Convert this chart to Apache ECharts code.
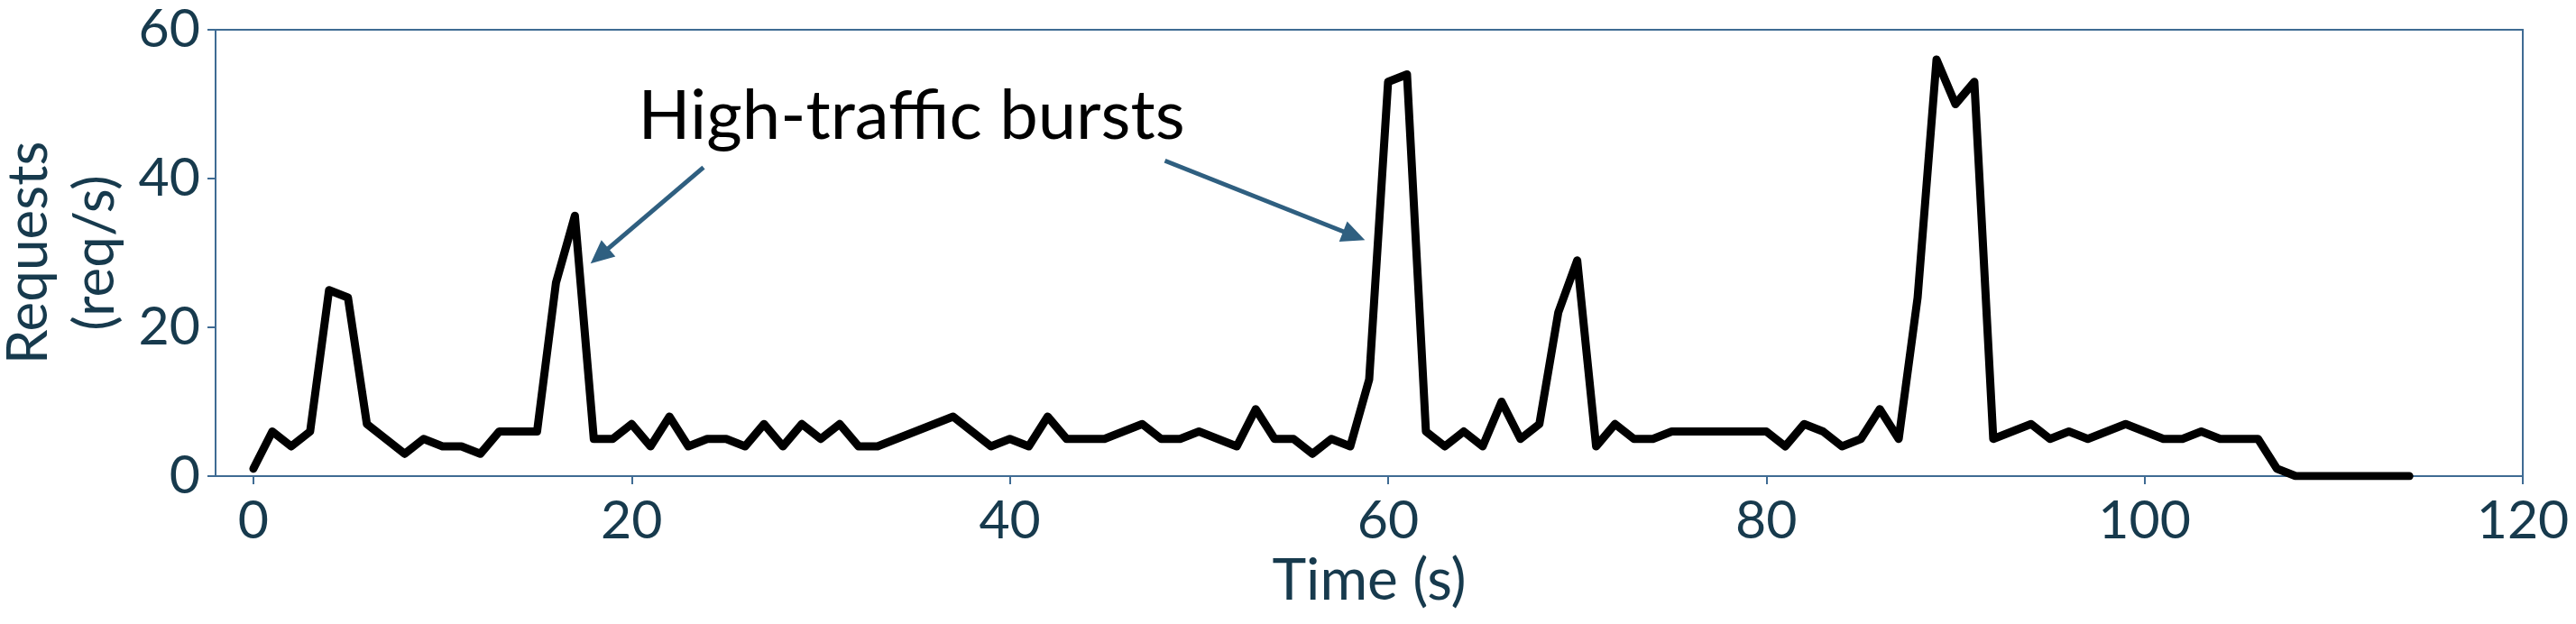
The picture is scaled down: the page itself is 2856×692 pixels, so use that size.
<!DOCTYPE html>
<html>
<head>
<meta charset="utf-8">
<script src="https://cdn.jsdelivr.net/npm/echarts@6/dist/echarts.min.js"></script>
<style>
html,body{margin:0;padding:0;background:#fff;}
#chart{width:2856px;height:692px;}
</style>
</head>
<body>
<div id="chart"></div>
<script>
// ---- data ----
const times = [];
for (let t = 0; t <= 114; t++) times.push(t);
const requests = [
  1, 6, 4, 6, 25, 24, 7, 5, 3, 5,
  4, 4, 3, 6, 6, 6, 26, 35, 5, 5,
  7, 4, 8, 4, 5, 5, 4, 7, 4, 7,
  5, 7, 4, 4, 5, 6, 7, 8, 6, 4,
  5, 4, 8, 5, 5, 5, 6, 7, 5, 5,
  6, 5, 4, 9, 5, 5, 3, 5, 4, 13,
  53, 54, 6, 4, 6, 4, 10, 5, 7, 22,
  29, 4, 7, 5, 5, 6, 6, 6, 6, 6,
  6, 4, 7, 6, 4, 5, 9, 5, 24, 56,
  50, 53, 5, 6, 7, 5, 6, 5, 6, 7,
  6, 5, 5, 6, 5, 5, 5, 1, 0, 0,
  0, 0, 0, 0, 0
];
const xTicks = [0, 20, 40, 60, 80, 100, 120];
const yTicks = [0, 20, 40, 60];
const annotationText = 'High-traffic bursts';
// annotation anchor points in data coordinates: [start, tip]
const arrows = [
  [[23.8, 41.5], [18.3, 29.6]],
  [[48.2, 42.4], [58.2, 32.3]]
];
const annotationPos = [34.8, 48.3];

const navy = '#173a4d';
const frame = '#3f6b93';
const arrowColor = '#2f5f80';
const FONT = 'Lato';

const chart = echarts.init(document.getElementById('chart'), null, {renderer: 'canvas'});
chart.setOption({
  animation: false,
  backgroundColor: '#ffffff',
  grid: {
    left: 239, right: 59, top: 33, bottom: 164,
    show: true, borderColor: frame, borderWidth: 2,
    backgroundColor: 'transparent',
    outerBoundsMode: 'none'
  },
  xAxis: {
    type: 'value', min: -2, max: 120,
    splitLine: {show: false},
    axisLine: {show: false, onZero: false},
    axisTick: {show: true, length: 9, inside: false, customValues: xTicks,
      lineStyle: {color: frame, width: 2}},
    axisLabel: {customValues: xTicks, fontFamily: FONT, fontSize: 59, color: navy, margin: 20},
    name: 'Time (s)', nameLocation: 'middle', nameGap: 78,
    nameTextStyle: {fontFamily: FONT, fontSize: 64, color: navy}
  },
  yAxis: {
    type: 'value', min: 0, max: 60, interval: 20,
    splitLine: {show: false},
    axisLine: {show: false, onZero: false},
    axisTick: {show: true, length: 9, inside: false, customValues: yTicks,
      lineStyle: {color: frame, width: 2}},
    axisLabel: {customValues: yTicks, fontFamily: FONT, fontSize: 59, color: navy, margin: 17},
    name: 'Requests\n(req/s)', nameLocation: 'middle', nameGap: 87, nameRotate: 90,
    nameTextStyle: {fontFamily: FONT, fontSize: 62, color: navy, lineHeight: 74, align: 'center'}
  },
  series: [{
    type: 'line',
    data: times.map((t, i) => [t, requests[i]]),
    showSymbol: false,
    symbol: 'none',
    lineStyle: {color: '#000000', width: 9, cap: 'round', join: 'round'},
    markLine: {
      silent: true,
      symbol: ['none', 'triangle'],
      symbolSize: [24, 26],
      lineStyle: {color: arrowColor, width: 5, type: 'solid'},
      label: {show: false},
      data: arrows.map(a => [{coord: a[0]}, {coord: a[1]}])
    },
    markPoint: {
      silent: true,
      symbol: 'circle', symbolSize: 0,
      label: {show: true, position: 'inside', formatter: annotationText,
        fontFamily: FONT, fontSize: 76, color: '#000000'},
      data: [{coord: annotationPos}]
    }
  }]
});
</script>
</body>
</html>
